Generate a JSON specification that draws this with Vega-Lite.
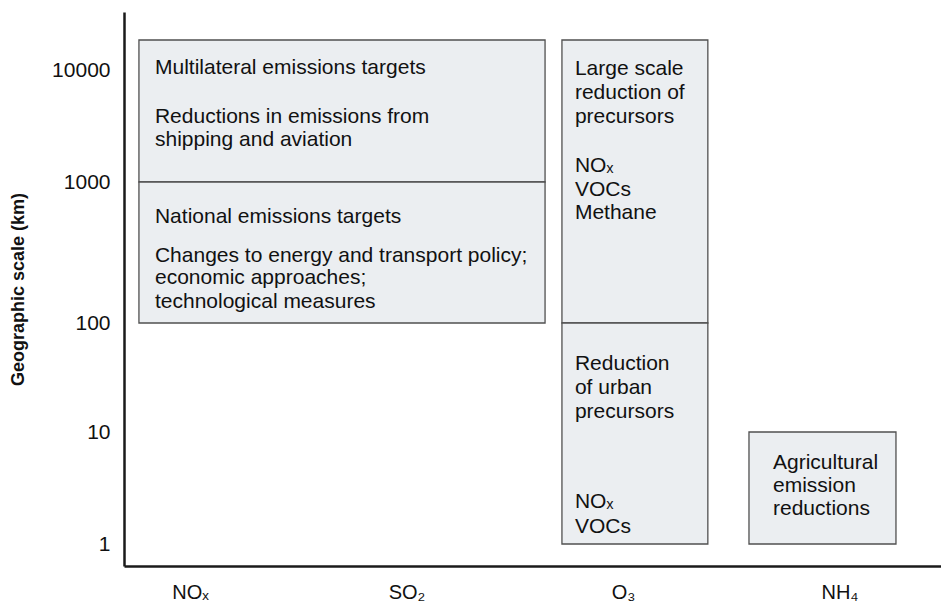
{
  "$schema": "https://vega.github.io/schema/vega-lite/v6.json",
  "autosize": "none",
  "width": 817,
  "height": 554,
  "padding": {"left": 124, "top": 12, "right": 0, "bottom": 42},
  "background": "white",
  "config": {
    "view": {"stroke": null},
    "font": "Liberation Sans"
  },
  "datasets": {
    "boxes": [
      {"group": "NOx-SO2 multilateral", "x0": 0.764, "x1": 2.640, "y0": 1000, "y1": 20000},
      {"group": "NOx-SO2 national", "x0": 0.764, "x1": 2.640, "y0": 100, "y1": 1000},
      {"group": "O3 large scale", "x0": 2.718, "x1": 3.392, "y0": 100, "y1": 20000},
      {"group": "O3 urban", "x0": 2.718, "x1": 3.392, "y0": 1, "y1": 100},
      {"group": "NH4 agricultural", "x0": 3.582, "x1": 4.261, "y0": 1, "y1": 10}
    ],
    "labels": [
      {"tx": 0.838, "ty": 10470, "label": "Multilateral emissions targets"},
      {"tx": 0.838, "ty": 3802, "label": "Reductions in emissions from"},
      {"tx": 0.838, "ty": 2371, "label": "shipping and aviation"},
      {"tx": 0.838, "ty": 565, "label": "National emissions targets"},
      {"tx": 0.838, "ty": 299, "label": "Changes to energy and transport policy;"},
      {"tx": 0.838, "ty": 208, "label": "economic approaches;"},
      {"tx": 0.838, "ty": 141, "label": "technological measures"},
      {"tx": 2.778, "ty": 10230, "label": "Large scale"},
      {"tx": 2.778, "ty": 6237, "label": "reduction of"},
      {"tx": 2.778, "ty": 3802, "label": "precursors"},
      {"tx": 2.778, "ty": 1390, "label": "NOₓ"},
      {"tx": 2.778, "ty": 878, "label": "VOCs"},
      {"tx": 2.778, "ty": 603, "label": "Methane"},
      {"tx": 2.778, "ty": 42.1, "label": "Reduction"},
      {"tx": 2.778, "ty": 25.3, "label": "of urban"},
      {"tx": 2.778, "ty": 15.2, "label": "precursors"},
      {"tx": 2.778, "ty": 2.37, "label": "NOₓ"},
      {"tx": 2.778, "ty": 1.42, "label": "VOCs"},
      {"tx": 3.693, "ty": 5.29, "label": "Agricultural"},
      {"tx": 3.693, "ty": 3.30, "label": "emission"},
      {"tx": 3.693, "ty": 2.05, "label": "reductions"}
    ]
  },
  "layer": [
    {
      "data": {"name": "boxes"},
      "mark": {"type": "rect", "fill": "#ebeef1", "stroke": "#505050", "strokeWidth": 1.3},
      "encoding": {
        "x": {
          "field": "x0", "type": "quantitative",
          "scale": {"domain": [0.695, 4.469], "nice": false, "zero": false},
          "axis": {
            "values": [1, 2, 3, 4],
            "labelExpr": "['NOₓ','SO₂','O₃','NH₄'][datum.value - 1]",
            "title": null, "grid": false, "ticks": false,
            "labelFontSize": 20, "labelColor": "#111111", "labelFont": "Liberation Sans",
            "labelPadding": 16, "labelFlush": false, "labelOverlap": false,
            "domainColor": "#1a1a1a", "domainWidth": 2.5
          }
        },
        "x2": {"field": "x1"},
        "y": {
          "field": "y0", "type": "quantitative",
          "scale": {
            "type": "log", "nice": false, "zero": false,
            "domain": [0.6, 1, 10, 100, 1000, 10000, 20000, 60000],
            "range": [554, 532, 420, 311, 170, 58, 28, 0]
          },
          "axis": {
            "values": [1, 10, 100, 1000, 10000],
            "format": "d",
            "title": "Geographic scale (km)",
            "titleFont": "Liberation Sans", "titleFontSize": 18, "titleFontWeight": "bold",
            "titleColor": "#111111", "titlePadding": 24,
            "grid": false, "ticks": false,
            "labelFontSize": 21, "labelColor": "#111111", "labelFont": "Liberation Sans",
            "labelPadding": 14,
            "domainColor": "#1a1a1a", "domainWidth": 2.5
          }
        },
        "y2": {"field": "y1"}
      }
    },
    {
      "data": {"name": "labels"},
      "mark": {"type": "text", "align": "left", "baseline": "middle", "font": "Liberation Sans", "fontSize": 21, "color": "#111111"},
      "encoding": {
        "x": {"field": "tx", "type": "quantitative"},
        "y": {"field": "ty", "type": "quantitative"},
        "text": {"field": "label"}
      }
    }
  ]
}
